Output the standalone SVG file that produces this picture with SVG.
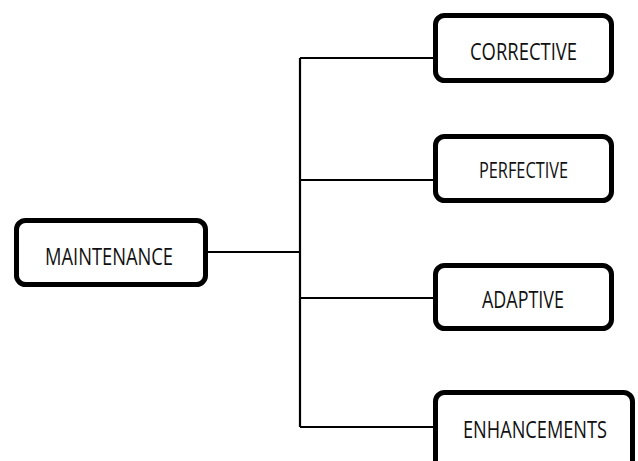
<svg xmlns="http://www.w3.org/2000/svg" width="638" height="461" viewBox="0 0 638 461">
<style>
.box{fill:#fff;stroke:#000;stroke-width:5}
.lbl{font-family:"Open Sans","Liberation Sans",sans-serif;font-size:23px;fill:#111;text-anchor:middle}
.ln{stroke:#000;stroke-width:2.2;fill:none}
</style>
<rect width="638" height="461" fill="#fff"/>
<g id="connectors">
<path class="ln" d="M208 252H300M300 58V427M300 58H434M300 180H434M300 298H434M300 427H434"/>
</g>
<g id="maintenance">
<rect class="box" x="16.5" y="220.5" width="189" height="64" rx="9"/>
<text class="lbl" x="109" y="265" textLength="128" lengthAdjust="spacingAndGlyphs">MAINTENANCE</text>
</g>
<g id="corrective">
<rect class="box" x="435.5" y="15.5" width="176" height="65" rx="9"/>
<text class="lbl" x="523.5" y="60" textLength="107" lengthAdjust="spacingAndGlyphs">CORRECTIVE</text>
</g>
<g id="perfective">
<rect class="box" x="435.5" y="136.5" width="176" height="64" rx="9"/>
<text class="lbl" x="523.5" y="178" style="font-size:21px" textLength="89" lengthAdjust="spacingAndGlyphs">PERFECTIVE</text>
</g>
<g id="adaptive">
<rect class="box" x="435.5" y="265.5" width="176" height="63" rx="9"/>
<text class="lbl" x="523" y="308" textLength="82" lengthAdjust="spacingAndGlyphs">ADAPTIVE</text>
</g>
<g id="enhancements">
<rect class="box" x="435.5" y="392.5" width="197" height="80" rx="9"/>
<text class="lbl" x="535" y="438" textLength="144" lengthAdjust="spacingAndGlyphs">ENHANCEMENTS</text>
</g>
</svg>
